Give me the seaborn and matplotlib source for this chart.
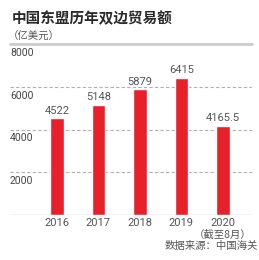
import matplotlib
matplotlib.use("Agg")
import matplotlib.pyplot as plt
import matplotlib.transforms as mtransforms
import seaborn as sns
import pandas as pd

years = ["2016", "2017", "2018", "2019", "2020"]
values = [4522, 5148, 5879, 6415, 4165.5]
value_labels = ["4522", "5148", "5879", "6415", "4165.5"]
yticks = [2000, 4000, 6000, 8000]
ytick_labels = ["2000", "4000", "6000", "8000"]
title = "中国东盟历年双边贸易额"
unit = "（亿美元）"
note = "（截至8月）"
source = "数据来源：中国海关"

sns.set_theme(style="white")
plt.rcParams['font.family'] = ['Noto Sans CJK SC', 'DejaVu Sans']
num_font = ['Roboto', 'Noto Sans CJK SC', 'DejaVu Sans']

df = pd.DataFrame({"year": years, "value": values})

fig = plt.figure(figsize=(2.59, 2.60), dpi=100)
ax = fig.add_axes([10/259, 45/260, 242/259, 171/260])

sns.barplot(data=df, x="year", y="value", color="#e8202a", width=0.32,
            saturation=1, ax=ax, zorder=3)
ax.set_xlim(-1.13, 4.7)
ax.set_ylim(0, 8000)
for s in ax.spines.values():
    s.set_visible(False)
ax.set_xlabel("")
ax.set_ylabel("")
ax.set_yticks([])
ax.tick_params(axis='x', length=0, pad=2, labelsize=8, colors="#555555")
for lab in ax.get_xticklabels():
    lab.set_fontfamily(num_font)

# gridlines
for y in yticks[:-1]:
    ax.axhline(y, color="#b0b0b0", lw=0.8, ls=(0, (3, 2)), zorder=1)
ax.axhline(8000, color="#cccccc", lw=2.0, zorder=1, clip_on=False)
ax.axhline(0, color="#999999", lw=0.9, zorder=4)

trans = mtransforms.blended_transform_factory(ax.transAxes, ax.transData)
for y, lab in zip(yticks, ytick_labels):
    ax.text(0.0, y - 180, lab, transform=trans, ha="left", va="top",
            fontsize=7.5, color="#444444", family=num_font)

for i, (v, lab) in enumerate(zip(values, value_labels)):
    ax.text(i, v + 120, lab, ha="center", va="bottom", fontsize=8,
            color="#555555", family=num_font)

fig.text(12/259, 1 - 18/260, title, ha="left", va="center", fontsize=10.5,
         color="#2a2a2a", weight="bold")
fig.text(8/259, 1 - 37/260, unit, ha="left", va="center", fontsize=7.5,
         color="#555555")
fig.text(223/259, 1 - 235/260, note, ha="center", va="center", fontsize=7.5,
         color="#555555")
fig.text(258/259, 1 - 246/260, source, ha="right", va="center", fontsize=7.5,
         color="#555555")

fig.savefig("out.png", dpi=100)
